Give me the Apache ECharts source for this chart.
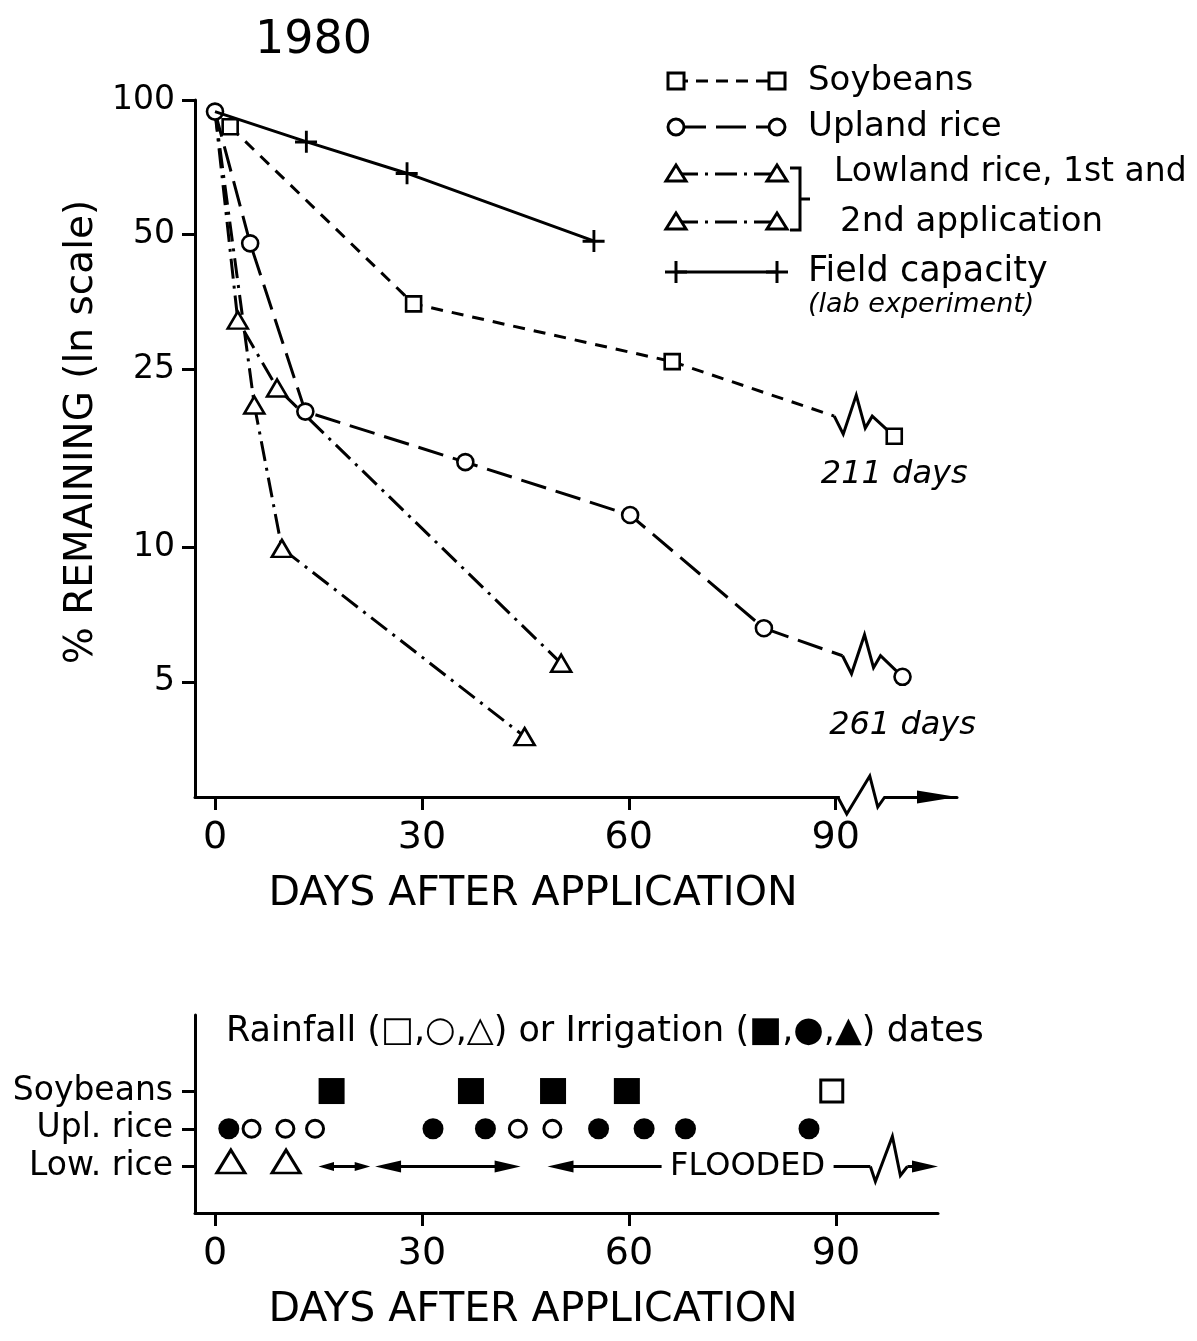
<!DOCTYPE html>
<html>
<head>
<meta charset="utf-8">
<script src="https://cdn.jsdelivr.net/npm/echarts@6/dist/echarts.min.js"></script>
<style>html,body{margin:0;padding:0;background:#fff}#c{width:1197px;height:1341px}</style>
</head>
<body>
<div id="c"></div>
<script>
// ---------------- DATA ----------------
const chartTitle = '1980';
const xTicks = [0, 30, 60, 90];
const yTicks = [5, 10, 25, 50, 100];

// % remaining (days after application, percent)
const soyDays = [2.2, 28.8, 66.3];
const soyPct = [87.1, 35.0, 26.0];
const soyLate = [98.5, 17.7];          // plotted after the axis break
const soyLateLabel = '211 days';

const uplDays = [0, 5.1, 13.1, 36.3, 60.2, 79.6];
const uplPct = [94.2, 47.8, 20.1, 15.5, 11.8, 6.59];
const uplLate = [99.7, 5.13];          // plotted after the axis break
const uplLateLabel = '261 days';

const low1Days = [0, 3.3, 9.0, 50.2];
const low1Pct = [94.2, 32.2, 22.7, 5.50];
const low2Days = [0, 5.7, 9.7, 44.9];
const low2Pct = [94.2, 20.8, 9.94, 3.77];

const fcDays = [0, 13.2, 27.8, 54.9];
const fcPct = [94.2, 80.7, 68.6, 48.4];

const xAxisBreakDay = 90.6;

// event dates panel
const rowNames = ['Low. rice', 'Upl. rice', 'Soybeans'];
const soyIrrigation = [16.9, 37.1, 49.0, 59.7];
const soyRainfall = [89.4];
const uplIrrigation = [2.0, 31.6, 39.2, 55.6, 62.2, 68.2, 86.1];
const uplRainfall = [5.3, 10.2, 14.5, 43.9, 48.9];
const lowRainfall = [2.3, 10.3];
const floodedStart = [15.0, 23.2, 48.2];
const floodedEnd = [22.5, 44.3, 104.8];
const floodLabel = 'FLOODED';
const floodLabelDay = 77.2;
const floodBreakDay = 95.0;

// ---------------- CHART ----------------
const FONT = '"DejaVu Sans", sans-serif';
const K = '#000';
const Y_MIN = 2.763, Y_MAX = 100;
const pairs = (xs, ys) => xs.map((x, i) => [x, ys[i]]);
const startHidden = (arr) => arr.map((p, i) => i === 0 ? {value: p, symbol: 'none'} : p);

const chart = echarts.init(document.getElementById('c'), null, {renderer: 'canvas'});

function lineSeries(name, data, dash, symbol, size, z) {
  return {
    type: 'line', name, xAxisIndex: 0, yAxisIndex: 0, data, symbol, symbolSize: size,
    showAllSymbol: true, z: z || 3,
    lineStyle: {color: K, width: 3, type: dash},
    itemStyle: {color: '#fff', borderColor: K, borderWidth: 2.6, opacity: 1}
  };
}

function breakSeries(from, to, dash) {
  return {
    type: 'custom', xAxisIndex: 0, yAxisIndex: 0, clip: false, z: 2, silent: true,
    data: [[from[0], from[1], to[0], to[1]]],
    encode: {x: [0, 2], y: [1, 3]},
    renderItem(params, api) {
      const p0 = api.coord([api.value(0), api.value(1)]);
      const p1 = api.coord([api.value(2), api.value(3)]);
      const sx = p1[0] - 60;
      const t = (sx - p0[0]) / (p1[0] - p0[0]);
      const sy = p0[1] + t * (p1[1] - p0[1]);
      const zig = [[sx, sy], [sx + 9, sy + 18], [sx + 22, sy - 21], [sx + 31, sy + 12], [sx + 38, sy], [p1[0], p1[1]]];
      return {type: 'group', children: [
        {type: 'line', shape: {x1: p0[0], y1: p0[1], x2: sx, y2: sy}, style: {stroke: K, lineWidth: 3, lineDash: dash}},
        {type: 'polyline', shape: {points: zig}, style: {stroke: K, lineWidth: 3, fill: null}}
      ]};
    }
  };
}

function lateSeries(pt, sym, size, text, dist) {
  return {
    type: 'scatter', xAxisIndex: 0, yAxisIndex: 0, z: 6, symbol: sym, symbolSize: size,
    itemStyle: {color: '#fff', borderColor: K, borderWidth: 2.6, opacity: 1},
    data: [{value: pt, label: {show: true, formatter: text, position: 'bottom', distance: dist,
      color: K, opacity: 1, fontFamily: FONT, fontStyle: 'italic', fontSize: 32}}]
  };
}

const plusPath = 'path://M9,0h2.6v9h8.4v2.6h-8.4v8.4h-2.6v-8.4h-9v-2.6h9z';

const series = [
  lineSeries('Soybeans', pairs(soyDays, soyPct), [12, 9], 'rect', 15),
  lineSeries('Upland rice', pairs(uplDays, uplPct), [26, 10], 'circle', 16),
  lineSeries('Lowland rice 1st', startHidden(pairs(low1Days, low1Pct)), [20, 7, 3, 7], 'triangle', [20, 17]),
  lineSeries('Lowland rice 2nd', startHidden(pairs(low2Days, low2Pct)), [20, 7, 3, 7], 'triangle', [20, 17]),
  Object.assign(lineSeries('Field capacity', startHidden(pairs(fcDays, fcPct)), 'solid', plusPath, 22, 4),
    {itemStyle: {color: K, borderWidth: 0, opacity: 1}}),
  breakSeries([soyDays[soyDays.length - 1], soyPct[soyPct.length - 1]], soyLate, [12, 9]),
  breakSeries([uplDays[uplDays.length - 1], uplPct[uplPct.length - 1]], uplLate, [26, 10]),
  lateSeries(soyLate, 'rect', 15, soyLateLabel, 14),
  lateSeries(uplLate, 'circle', 16, uplLateLabel, 24),
  // x axis break
  {
    type: 'custom', xAxisIndex: 0, yAxisIndex: 0, clip: false, z: 7, silent: true,
    data: [[xAxisBreakDay, Y_MIN]], encode: {x: 0, y: 1},
    renderItem(params, api) {
      const p = api.coord([api.value(0), Y_MIN]);
      const x = p[0], y = p[1];
      return {type: 'group', children: [
        {type: 'rect', shape: {x: x, y: y - 4, width: 44, height: 8}, style: {fill: '#fff'}},
        {type: 'polyline', shape: {points: [[x - 2, y], [x + 7, y + 17], [x + 30, y - 21], [x + 38, y + 10], [x + 45, y]]},
          style: {stroke: K, lineWidth: 3, fill: null}}
      ]};
    }
  },
  // bottom panel
  {type: 'scatter', xAxisIndex: 1, yAxisIndex: 1, symbol: 'rect', symbolSize: 26, itemStyle: {color: K, opacity: 1},
    data: soyIrrigation.map(d => [d, 2])},
  {type: 'scatter', xAxisIndex: 1, yAxisIndex: 1, symbol: 'rect', symbolSize: 22,
    itemStyle: {color: '#fff', borderColor: K, borderWidth: 3, opacity: 1}, data: soyRainfall.map(d => [d, 2])},
  {type: 'scatter', xAxisIndex: 1, yAxisIndex: 1, symbol: 'circle', symbolSize: 21, itemStyle: {color: K, opacity: 1},
    data: uplIrrigation.map(d => [d, 1])},
  {type: 'scatter', xAxisIndex: 1, yAxisIndex: 1, symbol: 'circle', symbolSize: 17,
    itemStyle: {color: '#fff', borderColor: K, borderWidth: 3, opacity: 1}, data: uplRainfall.map(d => [d, 1])},
  {type: 'scatter', xAxisIndex: 1, yAxisIndex: 1, symbol: 'triangle', symbolSize: [28, 23], symbolOffset: [0, -5],
    itemStyle: {color: '#fff', borderColor: K, borderWidth: 3, opacity: 1}, data: lowRainfall.map(d => [d, 0])},
  {
    type: 'custom', xAxisIndex: 1, yAxisIndex: 1, clip: false, z: 4, silent: true,
    data: floodedStart.map((s, i) => [s, floodedEnd[i], 0, i]),
    encode: {x: [0, 1], y: 2},
    renderItem(params, api) {
      const s = api.coord([api.value(0), api.value(2)]);
      const e = api.coord([api.value(1), api.value(2)]);
      const y = s[1];
      const len = e[0] - s[0];
      const hl = Math.min(26, len * 0.3), hw = hl < 20 ? 4.5 : 6;
      const head = (tip, dir) => ({type: 'polygon', shape: {points: [[tip, y], [tip + dir * hl, y - hw], [tip + dir * hl, y + hw]]}, style: {fill: K}});
      const seg = (x1, x2) => ({type: 'line', shape: {x1, y1: y, x2, y2: y}, style: {stroke: K, lineWidth: 3}});
      const ch = [];
      if (api.value(3) === floodedStart.length - 1) {
        const lx = api.coord([floodLabelDay, 0])[0];
        const zx = api.coord([floodBreakDay, 0])[0];
        ch.push(seg(s[0] + hl * 0.5, lx - 86));
        ch.push({type: 'text', style: {text: floodLabel, x: lx, y: y, align: 'center', verticalAlign: 'middle',
          font: '32px ' + FONT, fill: K}});
        ch.push(seg(lx + 86, zx));
        ch.push({type: 'polyline', shape: {points: [[zx, y], [zx + 5, y + 15], [zx + 22, y - 30], [zx + 30, y + 9], [zx + 37, y]]},
          style: {stroke: K, lineWidth: 3, fill: null}});
        ch.push(seg(zx + 37, e[0] - hl * 0.5));
      } else {
        ch.push(seg(s[0] + hl * 0.5, e[0] - hl * 0.5));
      }
      ch.push(head(s[0], 1), head(e[0], -1));
      return {type: 'group', children: ch};
    }
  }
];

// legend drawn as graphic
const LX1 = 676, LX2 = 777, TXX = 808;
const gl = (y, dash) => ({type: 'line', shape: {x1: LX1, y1: y, x2: LX2, y2: y}, style: {stroke: K, lineWidth: 3, lineDash: dash}, z: 10});
const gSq = (x, y) => ({type: 'rect', shape: {x: x - 8, y: y - 8, width: 16, height: 16}, style: {fill: '#fff', stroke: K, lineWidth: 3}, z: 11});
const gCi = (x, y) => ({type: 'circle', shape: {cx: x, cy: y, r: 8}, style: {fill: '#fff', stroke: K, lineWidth: 3}, z: 11});
const gTr = (x, y) => ({type: 'polygon', shape: {points: [[x, y - 9], [x + 10, y + 7], [x - 10, y + 7]]}, style: {fill: '#fff', stroke: K, lineWidth: 3}, z: 11});
const gPl = (x, y) => ({type: 'polyline', shape: {points: [[x - 11, y], [x + 11, y]]}, style: {stroke: K, lineWidth: 3}, z: 11});
const gPv = (x, y) => ({type: 'polyline', shape: {points: [[x, y - 11], [x, y + 11]]}, style: {stroke: K, lineWidth: 3}, z: 11});
const gTx = (x, y, text, size, italic) => ({type: 'text', x: x, y: y, z: 11,
  style: {text, font: (italic ? 'italic ' : '') + size + 'px ' + FONT, fill: K, align: 'left', verticalAlign: 'middle'}});

const legendY = [81, 127, 174, 222, 272];
const graphic = [
  gl(legendY[0], [12, 8]), gSq(LX1, legendY[0]), gSq(LX2, legendY[0]), gTx(TXX, legendY[0], 'Soybeans', 34),
  gl(legendY[1], [30, 10]), gCi(LX1, legendY[1]), gCi(LX2, legendY[1]), gTx(TXX, legendY[1], 'Upland rice', 34),
  gl(legendY[2], [22, 7, 3, 7]), gTr(LX1, legendY[2]), gTr(LX2, legendY[2]), gTx(834, legendY[2] - 2, 'Lowland rice, 1st and', 33),
  gl(legendY[3], [22, 7, 3, 7]), gTr(LX1, legendY[3]), gTr(LX2, legendY[3]), gTx(840, legendY[3], '2nd application', 34),
  {type: 'polyline', shape: {points: [[790, 168], [800, 168], [800, 230], [790, 230]]}, style: {stroke: K, lineWidth: 3, fill: null}, z: 11},
  {type: 'polyline', shape: {points: [[800, 199], [810, 199]]}, style: {stroke: K, lineWidth: 3}, z: 11},
  gl(legendY[4], null), gPl(LX1, legendY[4]), gPv(LX1, legendY[4]), gPl(LX2, legendY[4]), gPv(LX2, legendY[4]),
  gTx(TXX, legendY[4], 'Field capacity', 35),
  gTx(TXX, 305, '(lab experiment)', 27, true)
];

const axisLineStyle = {show: true, onZero: false, lineStyle: {color: K, width: 3}};
const tickStyle = (vals) => ({show: true, inside: false, length: 13, lineStyle: {color: K, width: 3}, customValues: vals});

const option = {
  animation: false,
  backgroundColor: '#fff',
  title: [
    {text: chartTitle, left: 250, top: 13, textStyle: {fontFamily: FONT, fontSize: 46, fontWeight: 'normal', color: K}},
    {text: 'Rainfall (□,○,△) or Irrigation (■,●,▲) dates', left: 221, top: 1009,
      textStyle: {fontFamily: FONT, fontSize: 35, fontWeight: 'normal', color: K}}
  ],
  grid: [
    {left: 195, top: 100, width: 762, height: 697},
    {left: 195, top: 1015, width: 743, height: 198}
  ],
  xAxis: [
    {
      type: 'value', gridIndex: 0, min: -2.9, max: 107.6, splitLine: {show: false},
      axisLine: Object.assign({}, axisLineStyle, {symbol: ['none', 'triangle'], symbolSize: [13, 40], symbolOffset: [0, -20]}),
      axisTick: tickStyle(xTicks),
      axisLabel: {color: K, fontFamily: FONT, fontSize: 38, margin: 22, customValues: xTicks},
      name: 'DAYS AFTER APPLICATION', nameLocation: 'middle', nameGap: 77,
      nameTextStyle: {color: K, fontFamily: FONT, fontSize: 41, padding: [0, 86, 0, 0]}
    },
    {
      type: 'value', gridIndex: 1, min: -2.9, max: 104.8, splitLine: {show: false},
      axisLine: axisLineStyle,
      axisTick: tickStyle(xTicks),
      axisLabel: {color: K, fontFamily: FONT, fontSize: 38, margin: 22, customValues: xTicks},
      name: 'DAYS AFTER APPLICATION', nameLocation: 'middle', nameGap: 77,
      nameTextStyle: {color: K, fontFamily: FONT, fontSize: 41, padding: [0, 67, 0, 0]}
    }
  ],
  yAxis: [
    {
      type: 'log', logBase: 10, gridIndex: 0, min: Y_MIN, max: Y_MAX, splitLine: {show: false},
      axisLine: axisLineStyle,
      axisTick: tickStyle(yTicks),
      axisLabel: {color: K, fontFamily: FONT, fontSize: 33, margin: 20, customValues: yTicks,
        formatter: v => String(Math.round(v))},
      name: '% REMAINING (ln scale)', nameLocation: 'middle', nameRotate: 90, nameGap: 50,
      nameTextStyle: {color: K, fontFamily: FONT, fontSize: 39, padding: [0, 0, 0, 33]}
    },
    {
      type: 'value', gridIndex: 1, min: -1.233, max: 4.016, splitLine: {show: false},
      axisLine: axisLineStyle,
      axisTick: tickStyle([0, 1, 2]),
      axisLabel: {color: K, fontFamily: FONT, fontSize: 33, margin: 22, customValues: [0, 1, 2],
        formatter: v => rowNames[Math.round(v)] || ''}
    }
  ],
  graphic: graphic,
  series: series
};

chart.setOption(option);
</script>
</body>
</html>
